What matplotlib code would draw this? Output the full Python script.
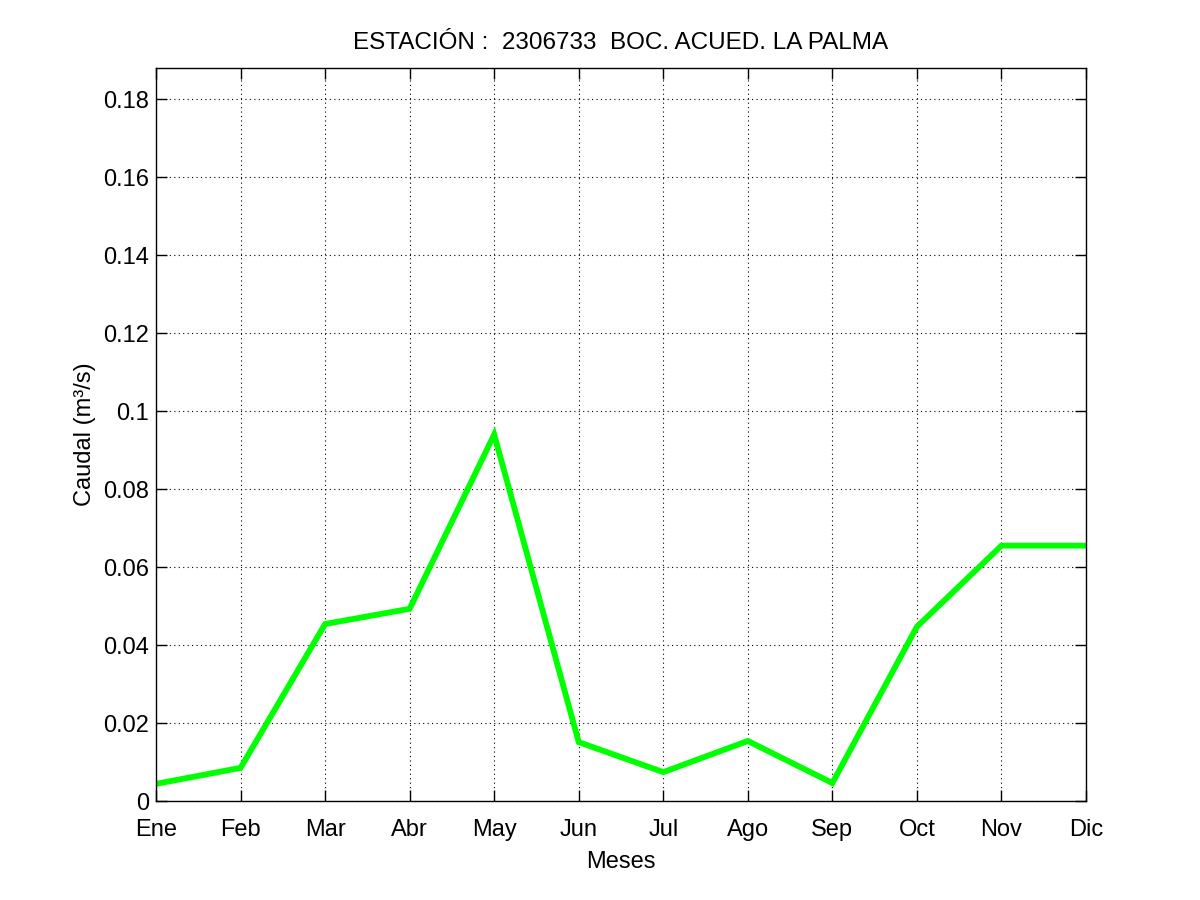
import matplotlib
matplotlib.use('Agg')
import matplotlib.pyplot as plt
import numpy as np

meses = ['Ene', 'Feb', 'Mar', 'Abr', 'May', 'Jun', 'Jul', 'Ago', 'Sep', 'Oct', 'Nov', 'Dic']
caudal = [0.0044, 0.0085, 0.0454, 0.0493, 0.0940, 0.0151, 0.0074, 0.0154, 0.0046, 0.0447, 0.0655, 0.0655]
yticks = [0, 0.02, 0.04, 0.06, 0.08, 0.1, 0.12, 0.14, 0.16, 0.18]
ytick_labels = ['0', '0.02', '0.04', '0.06', '0.08', '0.1', '0.12', '0.14', '0.16', '0.18']

plt.rcParams['font.family'] = ['Liberation Sans', 'DejaVu Sans']

fig = plt.figure(figsize=(12, 9), dpi=100)
ax = fig.add_axes([0.13, 0.11, 0.775, 0.8144])

x = np.arange(1, len(meses) + 1)
ax.plot(x, caudal, color='#00ff00', linewidth=4.2, solid_joinstyle='miter')

ax.set_xlim(1, 12)
ax.set_ylim(0, 2 * max(caudal))
ax.set_xticks(x)
ax.set_xticklabels(meses)
ax.set_yticks(yticks)
ax.set_yticklabels(ytick_labels)

ax.grid(True, color='black', linestyle=(0, (1, 3)), linewidth=0.8)
ax.tick_params(direction='in', length=8, width=1, labelsize=17,
               top=True, right=True)
ax.tick_params(axis='x', pad=13)
ax.tick_params(axis='y', pad=5)
for s in ax.spines.values():
    s.set_linewidth(1)

ax.set_xlabel('Meses', fontsize=17, labelpad=7)
ax.set_ylabel('Caudal (m³/s)', fontsize=17, labelpad=5)
ax.set_title('ESTACIÓN :  2306733  BOC. ACUED. LA PALMA', fontsize=17.5, pad=14)

fig.savefig('out.png', dpi=100)
